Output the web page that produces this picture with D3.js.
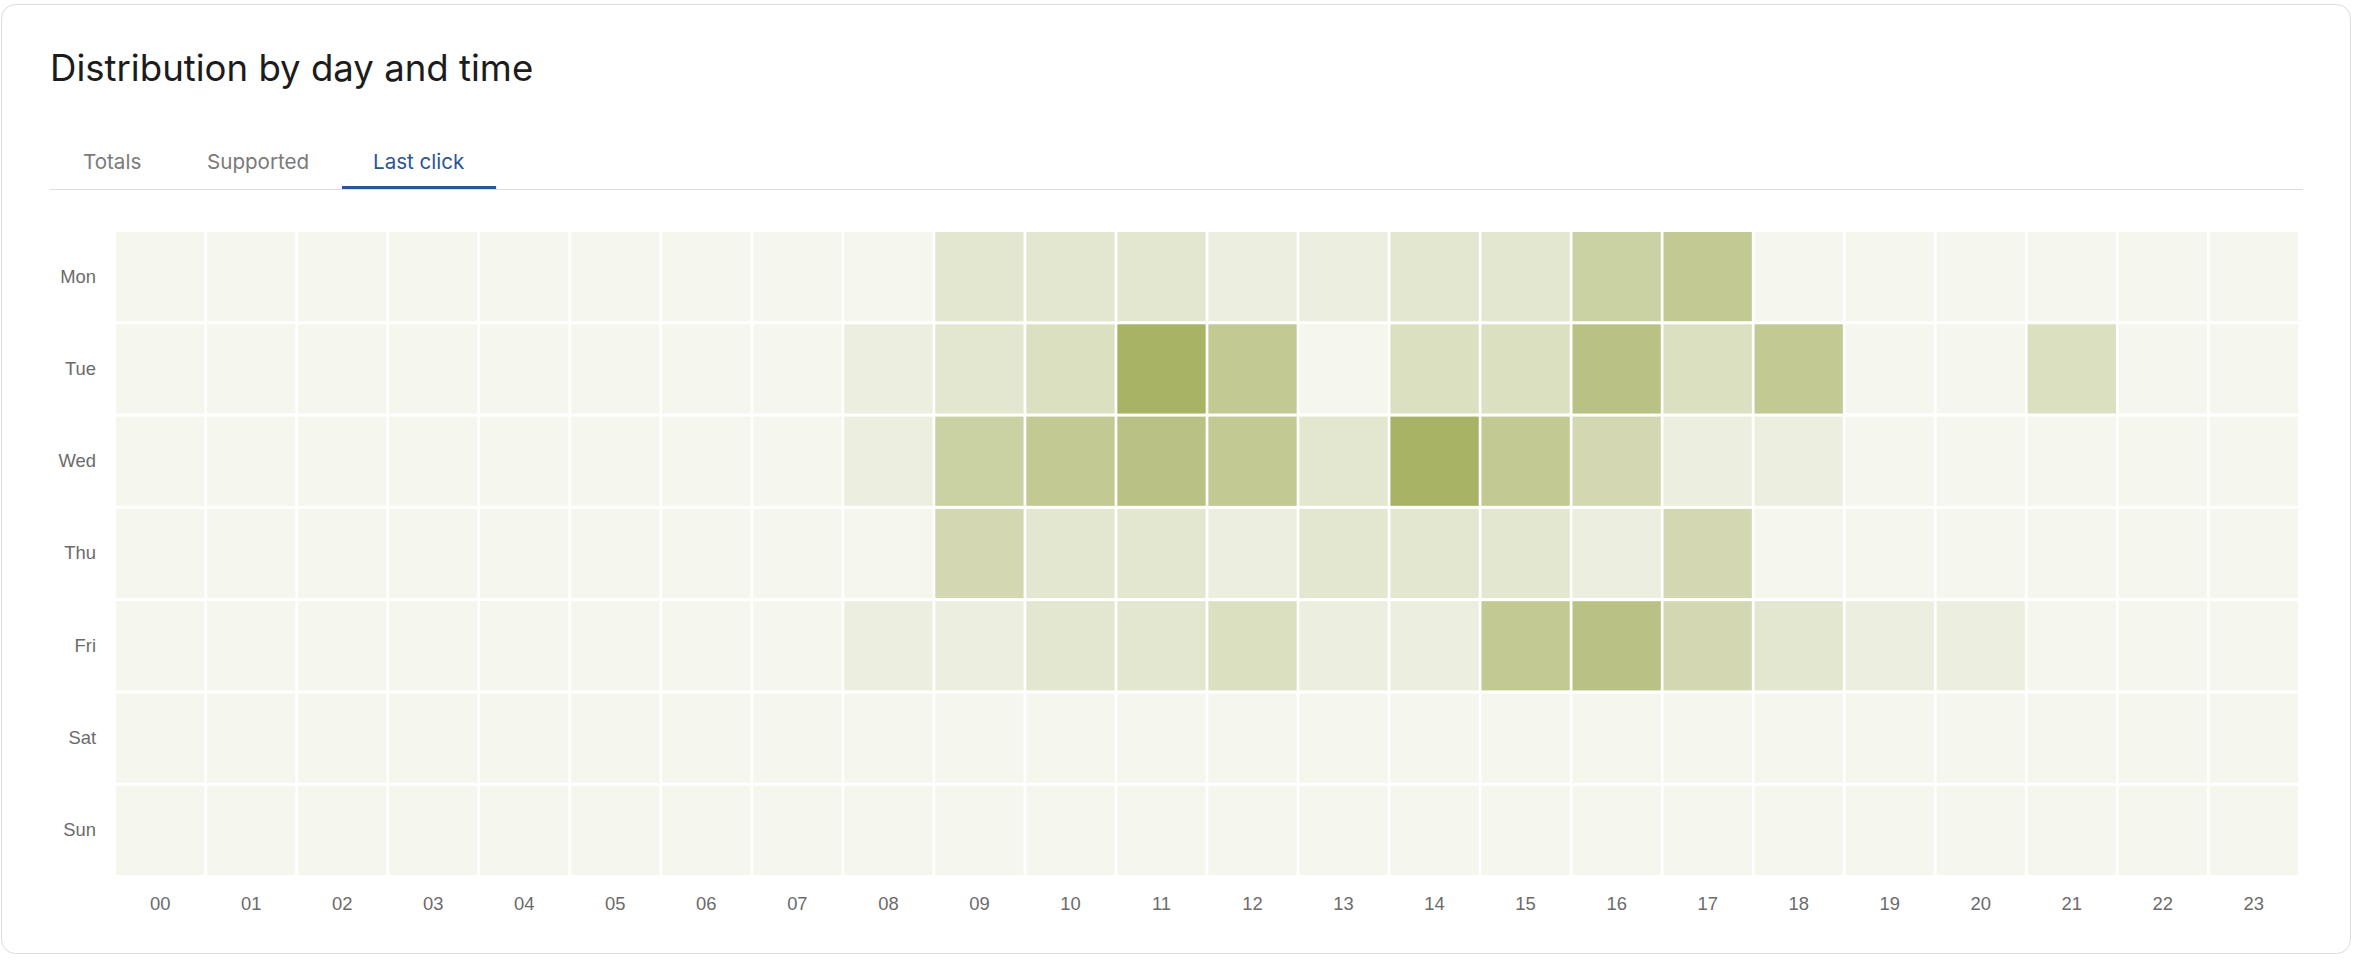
<!DOCTYPE html>
<html>
<head>
<meta charset="utf-8">
<script src="https://cdn.jsdelivr.net/npm/d3@7"></script>
<style>
    body { margin: 0; background: #fff; font-family: Inter, "Noto Sans", sans-serif; }
    svg { display: block; }
    .title { font-size: 36.6px; fill: #1c1c1c; }
    .tab { font-size: 20.6px; fill: #7a7a7a; }
    .tab.active { fill: #2a5597; }
    .axis-label { font-size: 18.4px; fill: #6b6b6b; }
</style>
</head>
<body>
<svg id="chart" width="2356" height="960"></svg>
<script>
// Tabs
const tabs = ["Totals", "Supported", "Last click"];
const activeTab = "Last click";

// Rows and columns
const days = ["Mon", "Tue", "Wed", "Thu", "Fri", "Sat", "Sun"];
const hours = ["00", "01", "02", "03", "04", "05", "06", "07", "08", "09", "10", "11",
               "12", "13", "14", "15", "16", "17", "18", "19", "20", "21", "22", "23"];

// Last click counts per hour, one array per day
const mon = [0, 0, 0, 0, 0, 0, 0, 0, 0, 2, 2, 2, 1, 1, 2, 2, 5, 6, 0, 0, 0, 0, 0, 0];
const tue = [0, 0, 0, 0, 0, 0, 0, 0, 1, 2, 3, 9, 6, 0, 3, 3, 7, 3, 6, 0, 0, 3, 0, 0];
const wed = [0, 0, 0, 0, 0, 0, 0, 0, 1, 5, 6, 7, 6, 2, 9, 6, 4, 1, 1, 0, 0, 0, 0, 0];
const thu = [0, 0, 0, 0, 0, 0, 0, 0, 0, 4, 2, 2, 1, 2, 2, 2, 1, 4, 0, 0, 0, 0, 0, 0];
const fri = [0, 0, 0, 0, 0, 0, 0, 0, 1, 1, 2, 2, 3, 1, 1, 6, 7, 4, 2, 1, 1, 0, 0, 0];
const sat = [0, 0, 0, 0, 0, 0, 0, 0, 0, 0, 0, 0, 0, 0, 0, 0, 0, 0, 0, 0, 0, 0, 0, 0];
const sun = [0, 0, 0, 0, 0, 0, 0, 0, 0, 0, 0, 0, 0, 0, 0, 0, 0, 0, 0, 0, 0, 0, 0, 0];
const rows = [mon, tue, wed, thu, fri, sat, sun];

const cells = [];
rows.forEach((r, i) => r.forEach((v, j) => cells.push({ day: days[i], hour: hours[j], value: v })));

const svg = d3.select("#chart");

// Card
svg.append("rect")
    .attr("x", 1.5).attr("y", 4.5)
    .attr("width", 2349).attr("height", 949)
    .attr("rx", 14)
    .attr("fill", "#fff")
    .attr("stroke", "#dcdcdc");

svg.append("text")
    .attr("class", "title")
    .attr("x", 50).attr("y", 81)
    .text("Distribution by day and time");

// Tab bar
const tabX = [83, 207, 373];
svg.append("line")
    .attr("x1", 50).attr("x2", 2303)
    .attr("y1", 189.5).attr("y2", 189.5)
    .attr("stroke", "#dddddd");

svg.selectAll(".tab")
    .data(tabs)
    .enter()
    .append("text")
    .attr("class", d => d === activeTab ? "tab active" : "tab")
    .attr("x", (d, i) => tabX[i])
    .attr("y", 169)
    .text(d => d);

const activeNode = svg.selectAll(".tab.active").node();
const ab = activeNode.getBBox();
svg.append("rect")
    .attr("x", ab.x - 31).attr("y", 186)
    .attr("width", ab.width + 62).attr("height", 3)
    .attr("fill", "#2a5597");

// Heatmap
const gridLeft = 116, gridRight = 2298, gridTop = 232, gridBottom = 875;

const x = d3.scaleBand().domain(hours).range([gridLeft, gridRight]).paddingInner(0.03);
const y = d3.scaleBand().domain(days).range([gridTop, gridBottom]).paddingInner(0.033);

const color = d3.scaleLinear()
    .domain([0, 9])
    .range(["#f5f6ee", "#a8b366"]);

svg.append("g")
    .selectAll(".cell")
    .data(cells)
    .enter()
    .append("rect")
    .classed("cell", true)
    .attr("x", d => x(d.hour))
    .attr("y", d => y(d.day))
    .attr("width", x.bandwidth())
    .attr("height", y.bandwidth())
    .attr("fill", d => color(d.value));

// Day labels
const yAxis = svg.append("g")
    .attr("transform", "translate(" + (gridLeft - 20) + ",0)")
    .call(d3.axisLeft(y).tickSize(0).tickPadding(0));
yAxis.select(".domain").remove();
yAxis.selectAll("text")
    .attr("class", "axis-label")
    .attr("font-family", null)
    .attr("font-size", null)
    .attr("fill", null);

// Hour labels
const xAxis = svg.append("g")
    .attr("transform", "translate(0," + (gridBottom + 22) + ")")
    .call(d3.axisBottom(x).tickSize(0).tickPadding(0));
xAxis.select(".domain").remove();
xAxis.selectAll("text")
    .attr("class", "axis-label")
    .attr("font-family", null)
    .attr("font-size", null)
    .attr("fill", null)
    .attr("dy", "0.73em");
</script>
</body>
</html>
